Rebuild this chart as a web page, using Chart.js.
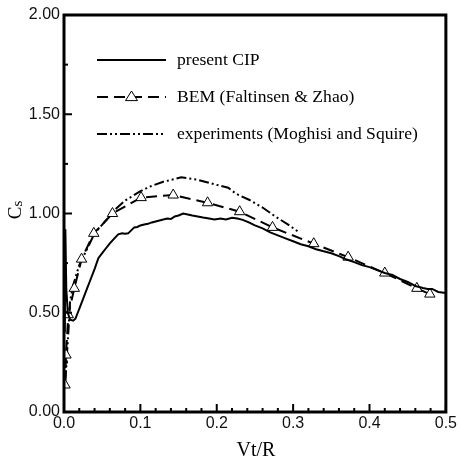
<!DOCTYPE html>
<html>
<head>
<meta charset="utf-8">
<script src="https://cdn.jsdelivr.net/npm/chart.js@4/dist/chart.umd.min.js"></script>
<style>
  html, body { margin: 0; padding: 0; background: #fff; }
  #wrap { width: 459px; height: 461px; }
</style>
</head>
<body>
<div id="wrap"><canvas id="chart" width="459" height="461"></canvas></div>
<script>
// present CIP (solid)
const cipX = [0.001, 0.0018, 0.003, 0.005, 0.008, 0.012, 0.015, 0.018, 0.021, 0.026, 0.030, 0.034, 0.040, 0.045, 0.050, 0.055, 0.060, 0.066, 0.071, 0.076, 0.080, 0.084, 0.088, 0.092, 0.096, 0.100, 0.105, 0.110, 0.115, 0.120, 0.125, 0.130, 0.135, 0.140, 0.145, 0.150, 0.156, 0.162, 0.168, 0.175, 0.182, 0.190, 0.197, 0.205, 0.212, 0.220, 0.227, 0.234, 0.242, 0.250, 0.260, 0.270, 0.280, 0.290, 0.300, 0.310, 0.320, 0.330, 0.340, 0.350, 0.360, 0.370, 0.380, 0.390, 0.400, 0.410, 0.420, 0.430, 0.440, 0.450, 0.460, 0.470, 0.476, 0.482, 0.490, 0.500];
const cipY = [0.40, 0.92, 0.62, 0.50, 0.465, 0.46, 0.47, 0.50, 0.53, 0.58, 0.62, 0.66, 0.72, 0.775, 0.80, 0.825, 0.85, 0.875, 0.895, 0.90, 0.898, 0.90, 0.915, 0.93, 0.932, 0.94, 0.945, 0.948, 0.955, 0.96, 0.965, 0.97, 0.975, 0.972, 0.985, 0.99, 1.00, 0.995, 0.99, 0.985, 0.98, 0.975, 0.97, 0.975, 0.97, 0.978, 0.975, 0.968, 0.955, 0.94, 0.925, 0.905, 0.89, 0.875, 0.86, 0.845, 0.835, 0.82, 0.81, 0.80, 0.785, 0.768, 0.755, 0.74, 0.73, 0.715, 0.70, 0.69, 0.67, 0.655, 0.635, 0.625, 0.62, 0.62, 0.605, 0.60];

// BEM (Faltinsen & Zhao), dashed with triangles
const bemX = [0.0013, 0.0026, 0.0056, 0.0135, 0.023, 0.039, 0.0635, 0.101, 0.143, 0.188, 0.230, 0.273, 0.327, 0.372, 0.420, 0.462, 0.479];
const bemY = [0.136, 0.287, 0.49, 0.623, 0.77, 0.90, 1.00, 1.08, 1.093, 1.054, 1.009, 0.93, 0.848, 0.78, 0.70, 0.623, 0.594];

// experiments (Moghisi and Squire), dash-dot-dot
const expX = [0.002, 0.004, 0.006, 0.008, 0.012, 0.020, 0.030, 0.040, 0.047, 0.055, 0.064, 0.080, 0.099, 0.112, 0.130, 0.1535, 0.175, 0.199, 0.215, 0.225, 0.243, 0.260, 0.277, 0.293, 0.308];
const expY = [0.16, 0.30, 0.42, 0.56, 0.64, 0.74, 0.82, 0.90, 0.93, 0.965, 1.01, 1.065, 1.11, 1.135, 1.16, 1.182, 1.17, 1.145, 1.13, 1.10, 1.068, 1.03, 0.984, 0.945, 0.905];

const seriesNames = ["present CIP", "BEM (Faltinsen & Zhao)", "experiments (Moghisi and Squire)"];
const xTitle = "Vt/R";

const bemDash = [11, 6];
const expDash = [10, 3, 2, 3, 2, 3];

function pts(xs, ys) {
  return xs.map((x, i) => ({ x: x, y: ys[i] }));
}

// frame, inward ticks, titles, legend
const decor = {
  id: "decor",
  afterDraw(chart) {
    const ctx = chart.ctx;
    const a = chart.chartArea;
    const xs = chart.scales.x, ys = chart.scales.y;
    ctx.save();
    ctx.strokeStyle = "#000";
    ctx.lineWidth = 2;
    for (let i = 0; i <= 25; i++) {
      const v = i * 0.02;
      const px = xs.getPixelForValue(v);
      const len = i % 5 === 0 ? 8 : 4;
      ctx.beginPath();
      ctx.moveTo(px, a.bottom);
      ctx.lineTo(px, a.bottom - len);
      ctx.stroke();
    }
    for (let i = 0; i <= 8; i++) {
      const v = i * 0.25;
      const py = ys.getPixelForValue(v);
      const len = i % 2 === 0 ? 8 : 4;
      ctx.beginPath();
      ctx.moveTo(a.left, py);
      ctx.lineTo(a.left + len, py);
      ctx.stroke();
    }
    ctx.lineWidth = 3;
    ctx.strokeRect(a.left, a.top, a.right - a.left, a.bottom - a.top);

    // axis titles
    ctx.fillStyle = "#000";
    ctx.font = "20px 'Liberation Serif'";
    ctx.textAlign = "center";
    ctx.textBaseline = "middle";
    ctx.fillText(xTitle, 256, 451);

    ctx.translate(16, 210);
    ctx.rotate(-Math.PI / 2);
    ctx.textAlign = "left";
    ctx.textBaseline = "middle";
    ctx.font = "19px 'Liberation Serif'";
    const cw = ctx.measureText("C").width;
    ctx.font = "15px 'Liberation Serif'";
    const sw = ctx.measureText("s").width;
    const start = -(cw + sw) / 2;
    ctx.font = "19px 'Liberation Serif'";
    ctx.fillText("C", start, 0);
    ctx.font = "15px 'Liberation Serif'";
    ctx.fillText("s", start + cw, 2);
    ctx.setTransform(1, 0, 0, 1, 0, 0);

    // legend
    const lx0 = 97, lx1 = 166, tx = 177;
    const rows = [60, 97, 134];
    ctx.lineWidth = 2;
    ctx.setLineDash([]);
    ctx.beginPath(); ctx.moveTo(lx0, rows[0]); ctx.lineTo(lx1, rows[0]); ctx.stroke();
    ctx.lineWidth = 2;
    ctx.setLineDash(bemDash);
    ctx.beginPath(); ctx.moveTo(lx0, rows[1]); ctx.lineTo(lx1, rows[1]); ctx.stroke();
    ctx.setLineDash([]);
    const cx = (lx0 + lx1) / 2, r = 6;
    ctx.beginPath();
    ctx.moveTo(cx, rows[1] - r);
    ctx.lineTo(cx + r, rows[1] + r * 0.6);
    ctx.lineTo(cx - r, rows[1] + r * 0.6);
    ctx.closePath();
    ctx.fillStyle = "#fff";
    ctx.fill();
    ctx.lineWidth = 1;
    ctx.stroke();
    ctx.lineWidth = 2;
    ctx.setLineDash(expDash);
    ctx.beginPath(); ctx.moveTo(lx0, rows[2]); ctx.lineTo(lx1, rows[2]); ctx.stroke();
    ctx.setLineDash([]);

    ctx.fillStyle = "#000";
    ctx.font = "17.6px 'Liberation Serif'";
    ctx.textAlign = "left";
    ctx.textBaseline = "middle";
    seriesNames.forEach((s, i) => ctx.fillText(s, tx, rows[i]));
    ctx.restore();
  }
};

const tickFont = { family: "'Liberation Sans', Arial, sans-serif", size: 16 };

new Chart(document.getElementById("chart"), {
  type: "scatter",
  data: {
    datasets: [
      {
        label: seriesNames[0],
        data: pts(cipX, cipY),
        showLine: true,
        borderColor: "#000",
        borderWidth: 2,
        pointRadius: 0,
        tension: 0
      },
      {
        label: seriesNames[1],
        data: pts(bemX, bemY),
        showLine: true,
        borderColor: "#000",
        borderWidth: 2,
        borderDash: bemDash,
        pointStyle: "triangle",
        pointRadius: 6,
        pointBackgroundColor: "#fff",
        pointBorderColor: "#000",
        pointBorderWidth: 1,
        tension: 0
      },
      {
        label: seriesNames[2],
        data: pts(expX, expY),
        showLine: true,
        borderColor: "#000",
        borderWidth: 2,
        borderDash: expDash,
        pointRadius: 0,
        tension: 0
      }
    ]
  },
  options: {
    responsive: false,
    animation: false,
    layout: { padding: { top: 15, right: 12, left: 0, bottom: 0 } },
    plugins: {
      legend: { display: false },
      tooltip: { enabled: false }
    },
    scales: {
      x: {
        type: "linear",
        min: 0,
        max: 0.5,
        grid: { display: false, drawTicks: false },
        border: { display: false },
        ticks: {
          stepSize: 0.1,
          color: "#111",
          font: tickFont,
          padding: 2,
          maxRotation: 0,
          callback: v => v.toFixed(1)
        },
        afterFit: s => { s.height = 49; }
      },
      y: {
        type: "linear",
        min: 0,
        max: 2,
        grid: { display: false, drawTicks: false },
        border: { display: false },
        ticks: {
          stepSize: 0.5,
          color: "#111",
          font: tickFont,
          padding: 4,
          callback: v => v.toFixed(2)
        },
        afterFit: s => { s.width = 64; }
      }
    }
  },
  plugins: [decor]
});
</script>
</body>
</html>
